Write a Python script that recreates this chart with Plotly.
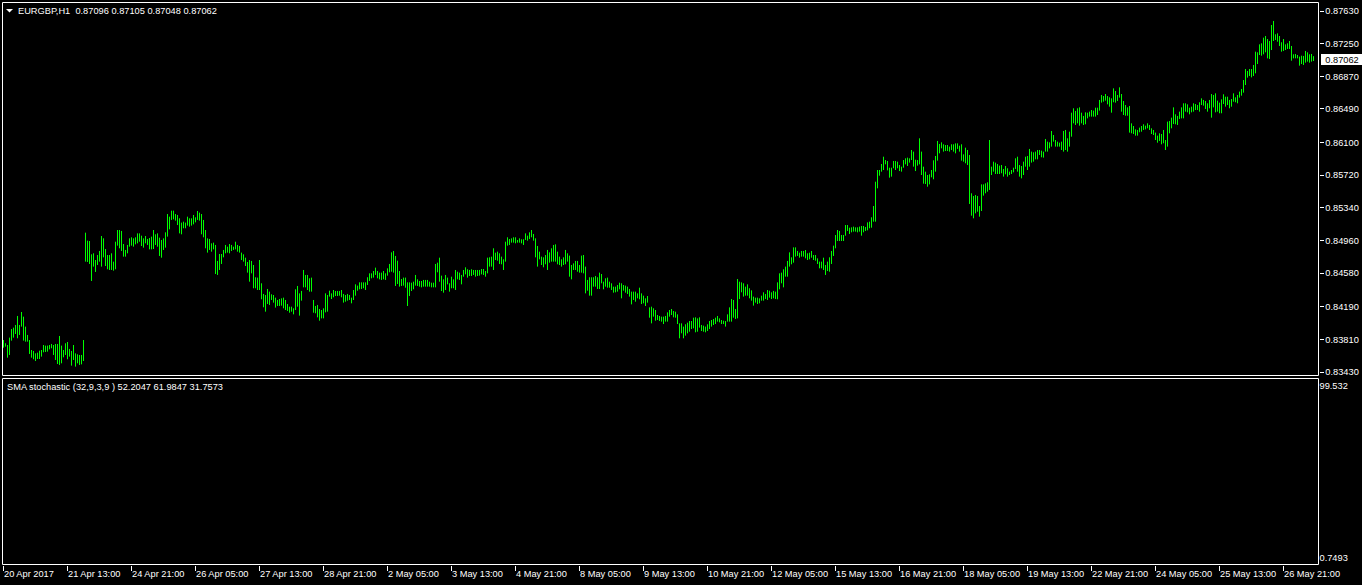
import plotly.graph_objects as go

W, H = 1362, 585

symbol = "EURGBP,H1"
last_open = 0.87096
last_close = 0.87062

high = [
0.83802,0.83764,0.83744,0.83830,0.83930,0.83946,0.83977,0.84082,0.83977,0.84128,
0.84074,0.83958,0.83861,0.83802,0.83686,0.83675,0.83647,0.83655,0.83678,0.83686,
0.83744,0.83737,0.83737,0.83744,0.83756,0.83744,0.83756,0.83756,0.83849,0.83737,
0.83686,0.83764,0.83779,0.83698,0.83675,0.83744,0.83647,0.83636,0.83628,0.83628,
0.83802,0.85051,0.84958,0.84954,0.84799,0.84811,0.84733,0.84791,0.84838,0.85012,
0.84985,0.84861,0.84791,0.84791,0.84811,0.84714,0.84946,0.85082,0.85082,0.85071,
0.84919,0.84850,0.84908,0.84985,0.84997,0.84985,0.84997,0.85043,0.85043,0.85016,
0.84985,0.85012,0.84978,0.84989,0.85005,0.85082,0.85032,0.85043,0.84993,0.84966,
0.84985,0.85055,0.85268,0.85237,0.85307,0.85307,0.85268,0.85257,0.85218,0.85168,
0.85179,0.85168,0.85237,0.85218,0.85218,0.85257,0.85230,0.85303,0.85284,0.85268,
0.85199,0.85082,0.84985,0.84978,0.84927,0.84935,0.84908,0.84722,0.84803,0.84803,
0.84850,0.84908,0.84888,0.84919,0.84908,0.84888,0.84946,0.84908,0.84896,0.84819,
0.84799,0.84760,0.84710,0.84733,0.84722,0.84675,0.84532,0.84528,0.84733,0.84462,
0.84338,0.84326,0.84396,0.84365,0.84334,0.84326,0.84295,0.84268,0.84279,0.84287,
0.84295,0.84268,0.84221,0.84190,0.84190,0.84171,0.84392,0.84431,0.84345,0.84373,
0.84617,0.84559,0.84559,0.84520,0.84528,0.84268,0.84198,0.84210,0.84163,0.84151,
0.84171,0.84345,0.84326,0.84376,0.84345,0.84384,0.84372,0.84372,0.84372,0.84384,
0.84338,0.84326,0.84338,0.84326,0.84295,0.84384,0.84450,0.84435,0.84473,0.84473,
0.84473,0.84473,0.84532,0.84578,0.84578,0.84605,0.84644,0.84605,0.84586,0.84586,
0.84605,0.84578,0.84636,0.84687,0.84822,0.84838,0.84780,0.84725,0.84605,0.84512,
0.84528,0.84528,0.84473,0.84473,0.84469,0.84481,0.84559,0.84508,0.84489,0.84489,
0.84501,0.84501,0.84501,0.84481,0.84469,0.84469,0.84687,0.84702,0.84760,0.84551,
0.84508,0.84559,0.84528,0.84462,0.84539,0.84508,0.84617,0.84597,0.84586,0.84559,
0.84617,0.84648,0.84625,0.84617,0.84625,0.84617,0.84617,0.84617,0.84617,0.84628,
0.84628,0.84605,0.84760,0.84764,0.84772,0.84869,0.84818,0.84830,0.84811,0.84772,
0.84741,0.84946,0.84997,0.84977,0.84985,0.84997,0.84997,0.84966,0.84985,0.84974,
0.84974,0.85043,0.85016,0.85055,0.85082,0.85036,0.84985,0.84896,0.84830,0.84772,
0.84764,0.84791,0.84850,0.84822,0.84869,0.84908,0.84915,0.84830,0.84772,0.84741,
0.84764,0.84850,0.84811,0.84784,0.84675,0.84694,0.84722,0.84722,0.84675,0.84784,
0.84791,0.84656,0.84501,0.84532,0.84532,0.84532,0.84547,0.84532,0.84586,0.84570,
0.84481,0.84520,0.84528,0.84481,0.84462,0.84423,0.84423,0.84442,0.84469,0.84462,
0.84442,0.84435,0.84423,0.84396,0.84365,0.84365,0.84365,0.84345,0.84411,0.84345,
0.84318,0.84287,0.84314,0.84182,0.84190,0.84171,0.84151,0.84093,0.84082,0.84074,
0.84074,0.84082,0.84124,0.84151,0.84163,0.84140,0.84132,0.84101,0.83996,0.83996,
0.83958,0.83985,0.84004,0.84023,0.84023,0.84062,0.84066,0.84054,0.84066,0.83977,
0.83969,0.83958,0.83985,0.84023,0.84035,0.84047,0.84062,0.84082,0.84054,0.84035,
0.84027,0.84023,0.84101,0.84182,0.84279,0.84268,0.84163,0.84512,0.84481,0.84473,
0.84462,0.84423,0.84450,0.84404,0.84380,0.84307,0.84295,0.84295,0.84287,0.84318,
0.84357,0.84338,0.84384,0.84376,0.84357,0.84373,0.84365,0.84473,0.84578,0.84586,
0.84625,0.84656,0.84722,0.84822,0.84764,0.84880,0.84880,0.84838,0.84818,0.84838,
0.84838,0.84849,0.84811,0.84818,0.84838,0.84791,0.84791,0.84752,0.84714,0.84714,
0.84760,0.84675,0.84714,0.84764,0.84838,0.84900,0.85024,0.85082,0.85071,0.85024,
0.85024,0.85140,0.85140,0.85109,0.85113,0.85121,0.85113,0.85113,0.85121,0.85129,
0.85129,0.85117,0.85171,0.85179,0.85230,0.85361,0.85644,0.85780,0.85780,0.85850,
0.85935,0.85896,0.85885,0.85807,0.85807,0.85885,0.85885,0.85877,0.85838,0.85819,
0.85896,0.85916,0.85924,0.85916,0.86013,0.85994,0.85900,0.85896,0.86149,0.85994,
0.85819,0.85761,0.85722,0.85730,0.85780,0.85893,0.85943,0.86118,0.86083,0.86102,
0.86079,0.86071,0.86071,0.86052,0.86079,0.86079,0.86090,0.86090,0.86063,0.86079,
0.85962,0.86040,0.86013,0.85955,0.85509,0.85478,0.85489,0.85478,0.85361,0.85613,
0.85613,0.85625,0.85637,0.86129,0.85819,0.85877,0.85866,0.85850,0.85831,0.85838,
0.85792,0.85827,0.85800,0.85761,0.85780,0.85807,0.85916,0.85935,0.85838,0.85827,
0.85877,0.85935,0.85943,0.86025,0.85994,0.85986,0.85994,0.86013,0.86013,0.86005,
0.85994,0.86141,0.86110,0.86102,0.86234,0.86187,0.86129,0.86110,0.86098,0.86110,
0.86234,0.86246,0.86149,0.86226,0.86447,0.86498,0.86467,0.86498,0.86509,0.86447,
0.86409,0.86451,0.86447,0.86459,0.86478,0.86471,0.86505,0.86505,0.86595,0.86653,
0.86641,0.86664,0.86641,0.86626,0.86614,0.86730,0.86699,0.86653,0.86742,0.86664,
0.86583,0.86536,0.86509,0.86525,0.86323,0.86292,0.86253,0.86246,0.86273,0.86292,
0.86312,0.86296,0.86323,0.86304,0.86265,0.86246,0.86215,0.86180,0.86207,0.86199,
0.86246,0.86129,0.86343,0.86350,0.86389,0.86509,0.86428,0.86409,0.86459,0.86509,
0.86556,0.86556,0.86544,0.86505,0.86517,0.86556,0.86548,0.86536,0.86568,0.86614,
0.86595,0.86583,0.86556,0.86595,0.86664,0.86653,0.86672,0.86587,0.86564,0.86602,
0.86661,0.86633,0.86633,0.86595,0.86606,0.86672,0.86626,0.86653,0.86692,0.86723,
0.86827,0.86955,0.86932,0.86955,0.86955,0.87002,0.87157,0.87149,0.87242,0.87254,
0.87320,0.87339,0.87304,0.87281,0.87467,0.87514,0.87359,0.87370,0.87339,0.87266,
0.87304,0.87242,0.87254,0.87281,0.87223,0.87126,0.87130,0.87118,0.87099,0.87110,
0.87107,0.87165,0.87149,0.87126,0.87130,0.87105,
]

low = [
0.83713,0.83725,0.83597,0.83628,0.83795,0.83830,0.83872,0.83822,0.83861,0.83958,
0.83795,0.83783,0.83783,0.83640,0.83597,0.83578,0.83558,0.83581,0.83581,0.83609,
0.83659,0.83663,0.83667,0.83694,0.83706,0.83628,0.83570,0.83523,0.83512,0.83531,
0.83601,0.83628,0.83578,0.83609,0.83504,0.83570,0.83492,0.83531,0.83512,0.83519,
0.83558,0.84714,0.84710,0.84687,0.84489,0.84656,0.84594,0.84675,0.84714,0.84656,
0.84764,0.84663,0.84625,0.84617,0.84617,0.84609,0.84625,0.84900,0.84869,0.84838,
0.84772,0.84772,0.84811,0.84888,0.84900,0.84888,0.84915,0.84927,0.84946,0.84896,
0.84877,0.84927,0.84908,0.84857,0.84857,0.84861,0.84908,0.84888,0.84780,0.84760,
0.84850,0.84877,0.85005,0.85090,0.85199,0.85206,0.85191,0.85140,0.85043,0.85032,
0.85102,0.85102,0.85133,0.85121,0.85133,0.85148,0.85171,0.85199,0.85191,0.85032,
0.84997,0.84869,0.84819,0.84850,0.84830,0.84857,0.84570,0.84559,0.84617,0.84687,
0.84764,0.84811,0.84819,0.84811,0.84838,0.84850,0.84857,0.84830,0.84819,0.84733,
0.84714,0.84663,0.84586,0.84481,0.84578,0.84404,0.84404,0.84384,0.84384,0.84276,
0.84183,0.84132,0.84221,0.84210,0.84268,0.84237,0.84179,0.84198,0.84198,0.84202,
0.84171,0.84151,0.84140,0.84120,0.84132,0.84101,0.84151,0.84190,0.84086,0.84260,
0.84415,0.84415,0.84384,0.84365,0.84365,0.84120,0.84113,0.84066,0.84027,0.84054,
0.84054,0.84124,0.84132,0.84307,0.84279,0.84299,0.84314,0.84314,0.84318,0.84299,
0.84237,0.84248,0.84260,0.84268,0.84229,0.84268,0.84318,0.84376,0.84392,0.84396,
0.84404,0.84384,0.84442,0.84489,0.84520,0.84528,0.84559,0.84520,0.84508,0.84501,
0.84508,0.84501,0.84551,0.84590,0.84597,0.84586,0.84431,0.84454,0.84423,0.84431,
0.84435,0.84411,0.84198,0.84314,0.84372,0.84392,0.84435,0.84431,0.84423,0.84415,
0.84423,0.84423,0.84423,0.84423,0.84415,0.84415,0.84415,0.84590,0.84481,0.84372,
0.84353,0.84384,0.84450,0.84365,0.84404,0.84404,0.84384,0.84508,0.84501,0.84450,
0.84539,0.84566,0.84528,0.84547,0.84547,0.84559,0.84539,0.84547,0.84551,0.84566,
0.84559,0.84539,0.84578,0.84656,0.84656,0.84617,0.84733,0.84725,0.84687,0.84683,
0.84617,0.84714,0.84900,0.84908,0.84935,0.84935,0.84927,0.84935,0.84935,0.84927,
0.84908,0.84966,0.84958,0.84977,0.84997,0.84958,0.84764,0.84656,0.84741,0.84675,
0.84648,0.84683,0.84617,0.84702,0.84714,0.84714,0.84714,0.84683,0.84675,0.84656,
0.84675,0.84683,0.84714,0.84539,0.84508,0.84617,0.84617,0.84597,0.84586,0.84586,
0.84578,0.84345,0.84376,0.84318,0.84318,0.84423,0.84423,0.84396,0.84396,0.84462,
0.84392,0.84423,0.84411,0.84411,0.84384,0.84353,0.84357,0.84365,0.84392,0.84287,
0.84376,0.84353,0.84338,0.84307,0.84217,0.84268,0.84248,0.84287,0.84276,0.84221,
0.84229,0.84198,0.84237,0.84062,0.83996,0.84074,0.84027,0.84035,0.84024,0.84016,
0.83988,0.84016,0.84016,0.84074,0.84093,0.84066,0.84062,0.83988,0.83822,0.83880,
0.83822,0.83853,0.83880,0.83899,0.83930,0.83938,0.83892,0.83899,0.83946,0.83907,
0.83899,0.83892,0.83907,0.83930,0.83958,0.83977,0.83988,0.84016,0.84008,0.83988,
0.83988,0.83958,0.84016,0.84016,0.84016,0.84062,0.84047,0.84054,0.84279,0.84357,
0.84307,0.84318,0.84318,0.84287,0.84260,0.84202,0.84237,0.84221,0.84229,0.84260,
0.84260,0.84279,0.84268,0.84295,0.84279,0.84287,0.84279,0.84276,0.84392,0.84462,
0.84415,0.84539,0.84539,0.84656,0.84683,0.84702,0.84772,0.84780,0.84760,0.84772,
0.84772,0.84752,0.84733,0.84741,0.84760,0.84733,0.84725,0.84687,0.84636,0.84636,
0.84617,0.84559,0.84605,0.84597,0.84687,0.84780,0.84869,0.84954,0.84954,0.84954,
0.84954,0.85016,0.85071,0.85036,0.85055,0.85063,0.85063,0.85055,0.85063,0.85016,
0.85055,0.85071,0.85078,0.85102,0.85109,0.85179,0.85179,0.85567,0.85714,0.85761,
0.85780,0.85846,0.85776,0.85691,0.85703,0.85800,0.85780,0.85800,0.85768,0.85761,
0.85807,0.85846,0.85827,0.85866,0.85896,0.85819,0.85768,0.85831,0.85846,0.85722,
0.85621,0.85617,0.85586,0.85613,0.85695,0.85672,0.85761,0.85889,0.85974,0.86032,
0.85994,0.86001,0.86001,0.85994,0.86013,0.85994,0.85974,0.86025,0.85994,0.85889,
0.85877,0.85858,0.85838,0.85385,0.85249,0.85218,0.85276,0.85295,0.85237,0.85303,
0.85482,0.85509,0.85528,0.85548,0.85722,0.85761,0.85734,0.85734,0.85734,0.85742,
0.85703,0.85730,0.85703,0.85722,0.85734,0.85753,0.85792,0.85761,0.85703,0.85683,
0.85722,0.85819,0.85780,0.85819,0.85866,0.85877,0.85904,0.85904,0.85955,0.85928,
0.85924,0.85994,0.85994,0.86032,0.86052,0.86110,0.86052,0.86052,0.86052,0.86013,
0.85994,0.86013,0.85994,0.86052,0.86168,0.86323,0.86304,0.86323,0.86296,0.86323,
0.86304,0.86312,0.86381,0.86401,0.86401,0.86401,0.86401,0.86420,0.86471,0.86564,
0.86575,0.86587,0.86544,0.86517,0.86447,0.86568,0.86564,0.86583,0.86622,0.86459,
0.86420,0.86412,0.86412,0.86215,0.86207,0.86199,0.86180,0.86180,0.86219,0.86226,
0.86246,0.86253,0.86265,0.86246,0.86199,0.86187,0.86129,0.86098,0.86118,0.86079,
0.86091,0.86013,0.86052,0.86207,0.86265,0.86315,0.86312,0.86304,0.86374,0.86381,
0.86381,0.86459,0.86451,0.86428,0.86451,0.86459,0.86478,0.86478,0.86459,0.86536,
0.86529,0.86490,0.86459,0.86498,0.86389,0.86509,0.86451,0.86459,0.86440,0.86440,
0.86548,0.86517,0.86536,0.86498,0.86517,0.86575,0.86568,0.86556,0.86622,0.86645,
0.86680,0.86769,0.86855,0.86874,0.86858,0.86874,0.86905,0.87013,0.87118,0.87110,
0.87126,0.87149,0.87079,0.87072,0.87176,0.87281,0.87293,0.87273,0.87223,0.87157,
0.87165,0.87176,0.87188,0.87188,0.87052,0.87079,0.87079,0.87079,0.86994,0.87013,
0.87002,0.87029,0.87041,0.87029,0.87041,0.87048,
]

time_labels = [
    "20 Apr 2017", "21 Apr 13:00", "24 Apr 21:00", "26 Apr 05:00", "27 Apr 13:00",
    "28 Apr 21:00", "2 May 05:00", "3 May 13:00", "4 May 21:00", "8 May 05:00",
    "9 May 13:00", "10 May 21:00", "12 May 05:00", "15 May 13:00", "16 May 21:00",
    "18 May 05:00", "19 May 13:00", "22 May 21:00", "24 May 05:00", "25 May 13:00",
    "26 May 21:00",
]
bars_per_label = 32

price_ticks = [0.87630, 0.87250, 0.86870, 0.86490, 0.86100, 0.85720,
               0.85340, 0.84960, 0.84580, 0.84190, 0.83810, 0.83430]

stoch_name = "SMA stochastic (32,9,3,9 )"
stoch_values = [52.2047, 61.9847, 31.7573]
stoch_scale = [99.532, 0.7493]

# ---------------------------------------------------------------- layout
FONT = "Liberation Sans"
FS = 9.25
GREEN = "#00ff00"
WHITE = "#ffffff"

def fx(px):
    return px / W

def fy(py):
    return 1 - py / H

# pixel frame of the two panes
L, R = 2.5, 1318.5
M_TOP, M_BOT = 2.5, 375.5
S_TOP, S_BOT = 378.5, 564.5

n = len(high)
bar_px = 2.0
x_range = [-(3.5 - L) / bar_px, (R - 3.5) / bar_px]

# price scale: top tick at pixel 11, bottom tick at pixel 372
p_top_px, p_bot_px = 11.0, 372.0
ppp = (price_ticks[0] - price_ticks[-1]) / (p_bot_px - p_top_px)
y_range = [price_ticks[0] - (M_BOT - p_top_px) * ppp,
           price_ticks[0] + (p_top_px - M_TOP) * ppp]

s_top_px, s_bot_px = 385.5, 557.5
spp = (stoch_scale[0] - stoch_scale[1]) / (s_bot_px - s_top_px)
y2_range = [stoch_scale[1] - (S_BOT - s_bot_px) * spp,
            stoch_scale[0] + (s_top_px - S_TOP) * spp]

xs, ys = [], []
for i, (h, l) in enumerate(zip(high, low)):
    xs += [i, i, None]
    ys += [h, l, None]

fig = go.Figure()
fig.add_trace(go.Scatter(x=xs, y=ys, mode="lines",
                         line=dict(color=GREEN, width=1),
                         connectgaps=False, hoverinfo="skip",
                         showlegend=False, xaxis="x", yaxis="y"))
fig.add_trace(go.Scatter(x=[None], y=[None], mode="lines",
                         hoverinfo="skip", showlegend=False,
                         xaxis="x2", yaxis="y2"))

tick_bars = list(range(0, n, bars_per_label))[:len(time_labels)]

axfont = dict(family=FONT, size=FS, color=WHITE)

fig.update_layout(
    width=W, height=H, autosize=False,
    margin=dict(l=0, r=0, t=0, b=0, pad=0, autoexpand=False),
    paper_bgcolor="#000000", plot_bgcolor="#000000",
    showlegend=False,
    font=axfont,
    xaxis=dict(domain=[fx(L), fx(R)], range=x_range, anchor="y",
               showticklabels=False, ticks="", showgrid=False,
               zeroline=False, showline=False, fixedrange=True,
               automargin=False),
    yaxis=dict(domain=[fy(M_BOT), fy(M_TOP)], range=y_range, anchor="x",
               side="right", tickmode="array", tickvals=price_ticks,
               ticktext=[f"{v:.5f}" for v in price_ticks],
               ticks="outside", ticklen=4, tickwidth=1, tickcolor=WHITE,
               tickfont=axfont, showgrid=False, zeroline=False,
               showline=False, fixedrange=True, automargin=False),
    xaxis2=dict(domain=[fx(L), fx(R)], range=x_range, anchor="y2",
                tickmode="array", tickvals=tick_bars, ticktext=time_labels,
                ticks="outside", ticklen=5, tickwidth=1, tickcolor=WHITE,
                tickangle=0, ticklabelposition="outside right",
                tickfont=axfont, showgrid=False, zeroline=False,
                showline=False, fixedrange=True, automargin=False),
    yaxis2=dict(domain=[fy(S_BOT), fy(S_TOP)], range=y2_range, anchor="x2",
                side="right", tickmode="array", tickvals=stoch_scale,
                ticktext=[f"{stoch_scale[0]:.3f}", f"{stoch_scale[1]:.4f}"],
                ticks="", tickfont=axfont, showgrid=False, zeroline=False,
                showline=False, fixedrange=True, automargin=False),
)

shapes = [
    dict(type="rect", xref="paper", yref="paper",
         x0=fx(L), x1=fx(R), y0=fy(M_BOT), y1=fy(M_TOP),
         line=dict(color=WHITE, width=1), fillcolor="rgba(0,0,0,0)", layer="above"),
    dict(type="rect", xref="paper", yref="paper",
         x0=fx(L), x1=fx(R), y0=fy(S_BOT), y1=fy(S_TOP),
         line=dict(color=WHITE, width=1), fillcolor="rgba(0,0,0,0)", layer="above"),
    dict(type="path", xref="paper", yref="paper",
         path=f"M {fx(6)},{fy(9)} L {fx(13)},{fy(9)} L {fx(9.5)},{fy(12.5)} Z",
         fillcolor=WHITE, line=dict(color=WHITE, width=0)),
]
fig.update_layout(shapes=shapes)

title = (f"{symbol}\u00a0 {last_open:.5f} {high[-1]:.5f} "
         f"{low[-1]:.5f} {last_close:.5f}")
sub = f"{stoch_name} " + " ".join(f"{v:.4f}" for v in stoch_values)

fig.update_layout(annotations=[
    dict(text=title, xref="paper", yref="paper", x=fx(18), y=fy(10.5),
         xanchor="left", yanchor="middle", showarrow=False,
         font=axfont, borderpad=0, borderwidth=0),
    dict(text=sub, xref="paper", yref="paper", x=fx(7), y=fy(387),
         xanchor="left", yanchor="middle", showarrow=False,
         font=axfont, borderpad=0, borderwidth=0),
    dict(text=f"{last_close:.5f}", xref="paper", yref="y", x=fx(1320.5),
         y=last_close, xanchor="left", yanchor="middle", showarrow=False,
         bgcolor=WHITE, font=dict(family=FONT, size=FS, color="#000000"),
         width=40, height=9, borderpad=1, borderwidth=0, align="center"),
])

page_js = ("document.body.style.margin='0';"
           "document.body.style.padding='0';"
           "document.body.style.background='#000000';")

fig.write_html("out.html", include_plotlyjs=True,
               config={"displayModeBar": False}, post_script=page_js)
